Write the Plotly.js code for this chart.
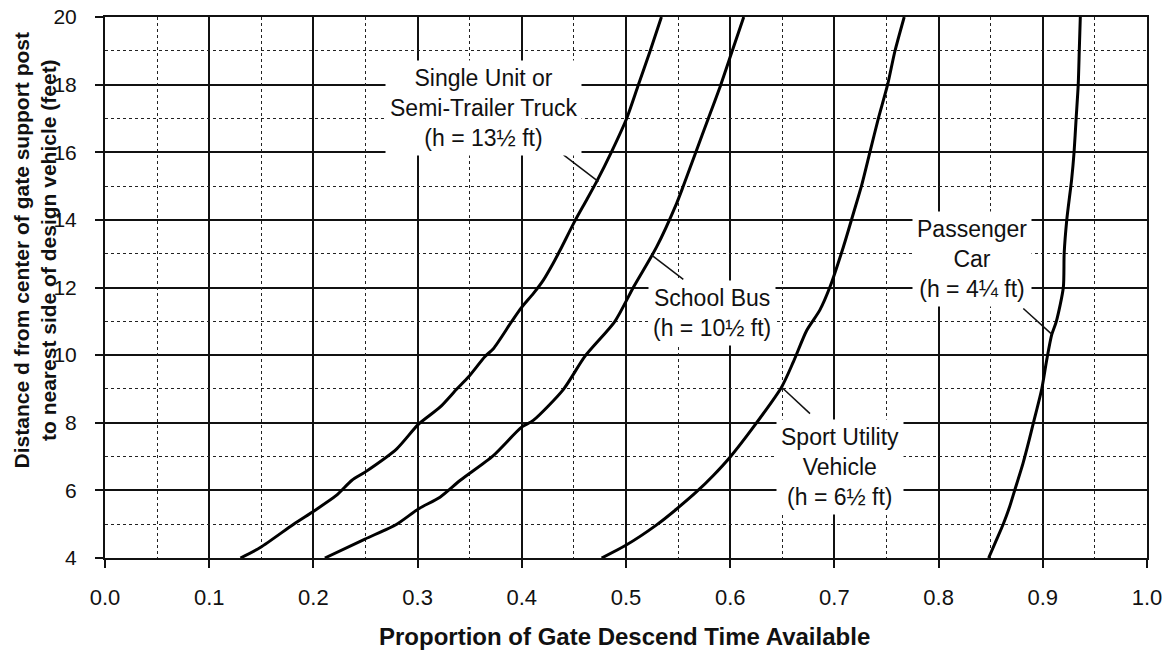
<!DOCTYPE html>
<html>
<head>
<meta charset="utf-8">
<script src="https://cdn.plot.ly/plotly-3.0.1.min.js"></script>
<style>html,body{margin:0;padding:0;background:#fff;}#chart{width:1172px;height:659px;}</style>
</head>
<body>
<div id="chart"></div>
<script>
// ---- data ----
const truckD = [4, 4.31, 5.0, 5.4, 5.85, 6.3, 6.54, 7.23, 7.95, 8.46, 8.99, 9.35, 9.96, 10.19, 10.98, 11.41, 11.82, 12.22, 12.71, 13.1, 13.97, 14.59, 15.13, 16.02, 17.0, 17.99, 18.98, 20.0];
const truckX = [0.130, 0.149, 0.181, 0.201, 0.222, 0.237, 0.2495, 0.280, 0.3007, 0.3215, 0.3374, 0.3487, 0.3647, 0.3727, 0.390, 0.3998, 0.411, 0.4207, 0.430, 0.4367, 0.451, 0.4622, 0.4718, 0.4862, 0.5006, 0.5118, 0.523, 0.534];

const busD = [4, 4.56, 5.0, 5.45, 5.8, 6.3, 7.03, 7.87, 8.07, 8.98, 9.97, 11.0, 12.0, 13.2, 14.49, 15.0, 16.0, 17.0, 18.0, 19.0, 20.0];
const busX = [0.211, 0.2495, 0.280, 0.3007, 0.3215, 0.341, 0.3727, 0.3998, 0.411, 0.4398, 0.4607, 0.4894, 0.507, 0.5294, 0.5486, 0.555, 0.567, 0.579, 0.591, 0.602, 0.613];

const suvD = [4, 4.36, 4.98, 5.45, 5.96, 6.44, 6.98, 7.87, 9.06, 9.8, 10.73, 11.33, 12.02, 13.2, 14.19, 15.03, 16.02, 17.0, 17.99, 18.98, 20.0];
const suvX = [0.4766, 0.499, 0.5294, 0.5486, 0.5678, 0.5838, 0.5998, 0.6222, 0.6494, 0.6606, 0.6734, 0.686, 0.6958, 0.7086, 0.7182, 0.7262, 0.7342, 0.7422, 0.751, 0.758, 0.767];

const carD = [4, 4.5, 5.0, 5.5, 6.0, 6.8, 7.5, 8.0, 9.0, 9.85, 10.6, 11.0, 12.0, 13.0, 14.0, 15.2, 16.0, 17.0, 18.0, 19.0, 20.0];
const carX = [0.848, 0.855, 0.862, 0.868, 0.873, 0.881, 0.887, 0.891, 0.899, 0.9037, 0.9085, 0.913, 0.9197, 0.9205, 0.923, 0.9277, 0.930, 0.932, 0.934, 0.935, 0.936];

const labels = [
  {text: "Single Unit or<br>Semi-Trailer Truck<br>(h = 13½ ft)", x: 0.3628, y: 17.31},
  {text: "School Bus<br>(h = 10½ ft)", x: 0.5825, y: 11.24},
  {text: "Sport Utility<br>Vehicle<br>(h = 6½ ft)", x: 0.7054, y: 6.68},
  {text: "Passenger<br>Car<br>(h = 4¼ ft)", x: 0.832, y: 12.84}
];
const leaders = [
  {x0: 0.440, y0: 15.92, x1: 0.4736, y1: 15.13},
  {x0: 0.5246, y0: 12.96, x1: 0.555, y1: 12.24},
  {x0: 0.6494, y0: 9.05, x1: 0.6766, y1: 8.27},
  {x0: 0.8813, y0: 11.38, x1: 0.9085, y1: 10.62}
];
const xTitle = "Proportion of Gate Descend Time Available";
const yTitleLines = ["Distance d from center of gate support post", "to nearest side of design vehicle (feet)"];

// ---- chart ----
const FONT = "Liberation Sans, Arial, sans-serif";
const lineStyle = {color: "#000", width: 3, shape: "spline", smoothing: 0.7};
const traces = [
  {x: truckX, y: truckD, name: "Truck"},
  {x: busX, y: busD, name: "School Bus"},
  {x: suvX, y: suvD, name: "SUV"},
  {x: carX, y: carD, name: "Car"}
].map(t => Object.assign(t, {type: "scatter", mode: "lines", line: lineStyle, hoverinfo: "skip"}));
// invisible trace that anchors the minor-grid overlay axes
traces.unshift({type: "scatter", mode: "lines", x: [0, 1], y: [4, 20], xaxis: "x2", yaxis: "y2",
  line: {color: "rgba(0,0,0,0)", width: 0}, hoverinfo: "skip", showlegend: false});

const gridCol = "#111";
const majorAxis = {
  showline: true, mirror: true, linecolor: gridCol, linewidth: 2,
  showgrid: true, gridcolor: gridCol, gridwidth: 2, griddash: "solid",
  ticks: "outside", ticklen: 8, tickcolor: gridCol, tickwidth: 2,
  zeroline: false
};
const minorAxis = {
  showline: false, showgrid: true, gridcolor: "#222", gridwidth: 1, griddash: "dot",
  ticks: "", showticklabels: false, zeroline: false
};

const annotations = labels.map(l => ({
  x: l.x, y: l.y, xref: "x", yref: "y", text: l.text, showarrow: false,
  font: {family: FONT, size: 23, color: "#111"}, bgcolor: "#fff", borderpad: 4,
  align: "center", xanchor: "center", yanchor: "middle"
}));
annotations.push({
  x: 0.499, y: -0.145, xref: "paper", yref: "paper", text: "<b>" + xTitle + "</b>", showarrow: false,
  font: {family: FONT, size: 24, color: "#111"}, xanchor: "center", yanchor: "middle"
});
annotations.push({
  x: -0.0675, y: 0.568, xref: "paper", yref: "paper",
  text: yTitleLines.map(s => "<b>" + s + "</b>").join("<br>"), showarrow: false,
  textangle: -90, font: {family: FONT, size: 21, color: "#111"}, xanchor: "center", yanchor: "middle"
});

const shapes = leaders.map(s => ({
  type: "line", xref: "x", yref: "y", x0: s.x0, y0: s.y0, x1: s.x1, y1: s.y1,
  line: {color: "#111", width: 1.5}, layer: "above"
}));

const layout = {
  width: 1172, height: 659,
  margin: {l: 105, r: 25, t: 17, b: 101, pad: 0},
  paper_bgcolor: "#fff", plot_bgcolor: "#fff",
  showlegend: false,
  xaxis: Object.assign({}, majorAxis, {
    range: [0, 1], tick0: 0, dtick: 0.1, tickformat: ".1f", ticklabelstandoff: 11,
    tickfont: {family: FONT, size: 22, color: "#111"}
  }),
  yaxis: Object.assign({}, majorAxis, {
    range: [4, 20], tick0: 4, dtick: 2, ticklabelstandoff: 14,
    tickfont: {family: FONT, size: 21, color: "#111"}
  }),
  xaxis2: Object.assign({}, minorAxis, {overlaying: "x", range: [0, 1], tick0: 0.05, dtick: 0.1, side: "bottom"}),
  yaxis2: Object.assign({}, minorAxis, {overlaying: "y", range: [4, 20], tick0: 5, dtick: 2, side: "left"}),
  annotations: annotations,
  shapes: shapes
};

Plotly.newPlot("chart", traces, layout, {staticPlot: true, displayModeBar: false});
</script>
</body>
</html>
